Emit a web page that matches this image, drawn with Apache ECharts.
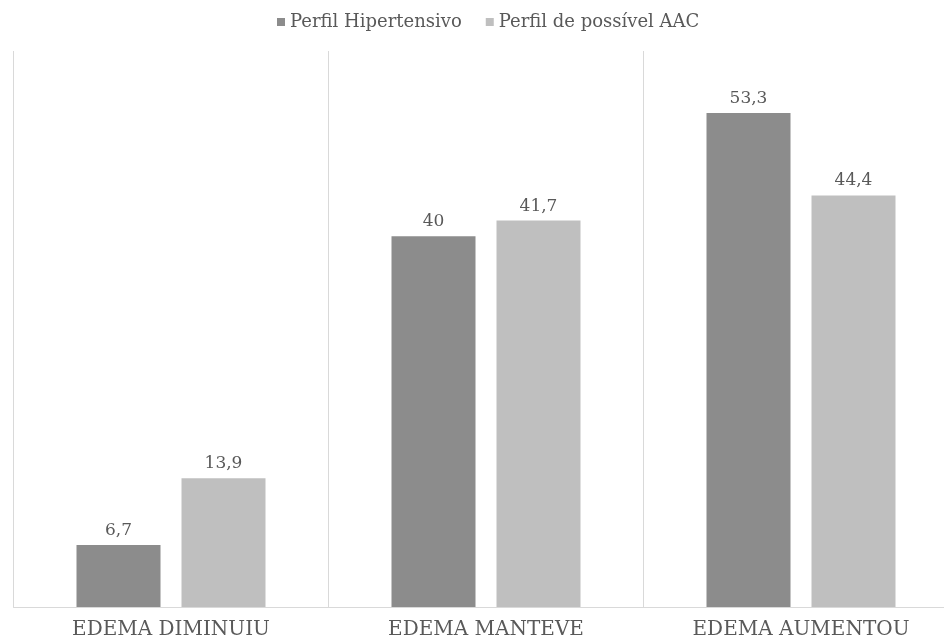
<!DOCTYPE html>
<html>
<head>
<meta charset="utf-8">
<script src="https://cdn.jsdelivr.net/npm/echarts@6/dist/echarts.min.js"></script>
<style>
  html, body { margin: 0; padding: 0; background: #fff; }
  #chart { width: 944px; height: 640px; }
</style>
</head>
<body>
<div id="chart"></div>
<script>
// Edema outcome per patient profile (%)
const categories = ['EDEMA DIMINUIU', 'EDEMA MANTEVE', 'EDEMA AUMENTOU'];
const seriesNames = ['Perfil Hipertensivo', 'Perfil de possível AAC'];
const hipertensivo = [6.7, 40, 53.3];
const possivelAAC = [13.9, 41.7, 44.4];

const colors = ['#8c8c8c', '#bfbfbf'];
const textColor = '#595959';
const serif = '"DejaVu Serif", "Liberation Serif", serif';

const fmt = p => String(p.value).replace('.', ',');

const chart = echarts.init(document.getElementById('chart'), null, { renderer: 'canvas' });

function barSeries(name, data, color) {
  return {
    name: name,
    type: 'bar',
    data: data,
    barGap: '25%',
    barCategoryGap: '40%',
    itemStyle: { color: color },
    label: {
      show: true,
      position: 'top',
      distance: 6,
      formatter: fmt,
      color: textColor,
      fontFamily: serif,
      fontSize: 17
    }
  };
}

chart.setOption({
  animation: false,
  color: colors,
  legend: {
    top: 8,
    left: 272,
    itemWidth: 8,
    itemHeight: 8,
    itemGap: 24,
    icon: 'rect',
    textStyle: { color: textColor, fontFamily: serif, fontSize: 18 },
    data: seriesNames
  },
  grid: { left: 13.5, width: 945, top: 51, bottom: 33, outerBoundsMode: 'none', containLabel: false },
  xAxis: {
    type: 'category',
    data: categories,
    axisLine: { show: true, lineStyle: { color: '#d9d9d9', width: 1 } },
    axisTick: { show: false },
    splitLine: { show: true, lineStyle: { color: '#d9d9d9', width: 1 } },
    axisLabel: {
      color: textColor,
      fontFamily: serif,
      fontSize: 20,
      margin: 13
    }
  },
  yAxis: {
    type: 'value',
    min: 0,
    max: 60,
    show: false,
    splitLine: { show: false }
  },
  series: [
    barSeries(seriesNames[0], hipertensivo, colors[0]),
    barSeries(seriesNames[1], possivelAAC, colors[1])
  ]
});
</script>
</body>
</html>
